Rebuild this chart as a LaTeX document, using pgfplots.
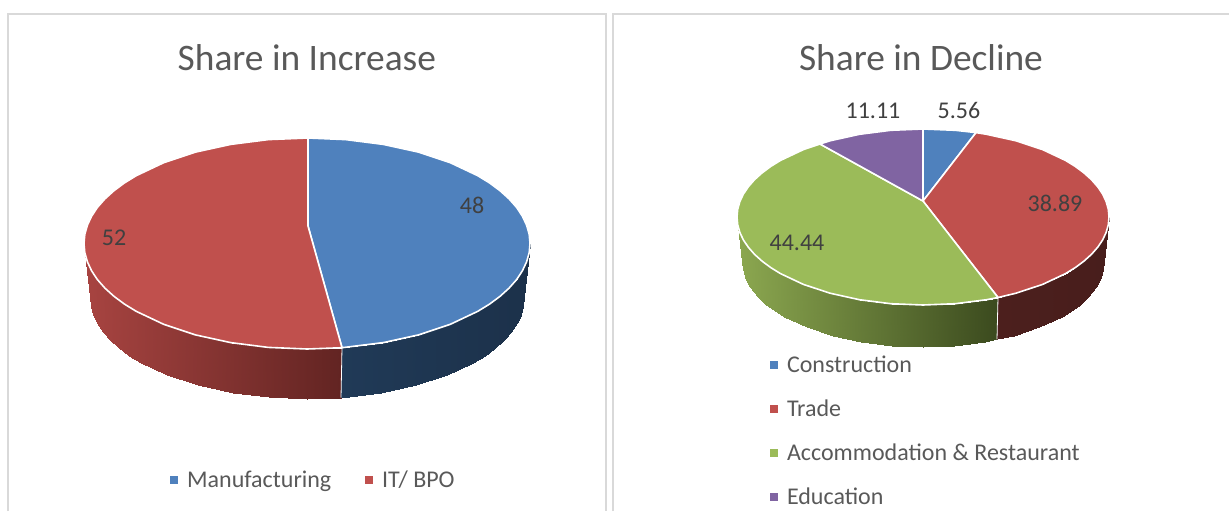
\documentclass[border=0pt]{standalone}
\usepackage{pgfplots}
\usepackage{fontspec}
\setmainfont{Carlito}
\pgfplotsset{compat=1.18}

\definecolor{cBlue}{HTML}{4F81BD}
\definecolor{cRed}{HTML}{C0504D}
\definecolor{cGreen}{HTML}{9BBB59}
\definecolor{cPurple}{HTML}{8064A2}
\definecolor{cFrame}{HTML}{D9D9D9}
\definecolor{cTitle}{HTML}{595959}
\definecolor{cValue}{HTML}{404040}

\pgfplotsset{
  colormap={sideRedL}{rgb255=(168,68,65) rgb255=(98,36,34)},
  colormap={sideBlue}{rgb255=(32,58,87) rgb255=(28,49,74)},
  colormap={sideGreen}{rgb255=(140,168,80) rgb255=(59,74,30)},
  colormap={sideRedR}{rgb255=(76,31,29) rgb255=(72,30,28)},
  pieaxis/.style={
    scale only axis,
    height=511pt,
    ymin=0, ymax=511,
    y dir=reverse,
    axis line style={draw=none},
    xtick=\empty, ytick=\empty,
    title style={font=\fontsize{37.4}{40}\selectfont, text=cTitle, anchor=center},
    legend cell align=left,
    legend image code/.code={\fill[##1, draw=none] (0pt,-4pt) rectangle (8pt,4pt); \path (14pt,0pt);},
  },
  side/.style={surf, shader=interp, forget plot, point meta=x, point meta rel=per plot, mesh/ordering=x varies},
  slice/.style={fill=#1, draw=white, line width=1.6pt, line join=round},
  values/.style={
    forget plot, only marks, mark=none,
    nodes near coords,
    point meta=explicit symbolic,
    nodes near coords align={anchor=center},
    every node near coord/.append style={font=\fontsize{24}{26}\selectfont, text=cValue, inner sep=0pt},
  },
}

\begin{document}
\begin{tikzpicture}

% left chart, coordinates are pixels of the picture
\begin{axis}[
    pieaxis,
    at={(0pt,0pt)},
    width=610pt,
    xmin=0, xmax=610,
    title={Share in Increase},
    title style={at={(0.503,0.8748)}},
    legend columns=2,
    legend style={at={(axis cs:313.5,480)}, anchor=center, draw=none, fill=none,
      font=\fontsize{24}{26}\selectfont, text=cTitle,
      /tikz/every even column/.append style={column sep=32pt}},
]
\addplot[draw=cFrame, line width=1.6pt, forget plot] coordinates {(8,511) (8,14) (606,14) (606,511)};

\addplot[side, colormap name=sideRedL, mesh/cols=15] table {
84 243.5
84.8 252.7
87.4 261.8
91.6 270.8
97.4 279.6
104.9 288.1
113.9 296.25
124.3 304
136.2 311.3
163.7 324.3
195.5 334.9
230.7 342.6
268.3 347.4
307 349
342 347.7
90 297
90.8 305.9
93.3 314.7
97.4 323.4
103.1 331.9
110.3 340.1
119.1 348
129.2 355.5
140.8 362.6
167.5 375.1
198.5 385.3
232.8 392.9
269.3 397.4
307 399
341 397.7
};
\addplot[side, colormap name=sideBlue, mesh/cols=13] table {
342 347.7
383.3 342.6
418.5 334.9
450.3 324.3
477.8 311.3
489.7 304
500.1 296.25
509.1 288.1
516.6 279.6
522.4 270.8
526.6 261.8
529.2 252.7
530 243.5
341 397.7
381.2 392.9
415.5 385.3
446.5 375.1
473.2 362.6
484.8 355.5
494.9 348
503.7 340.1
510.9 331.9
516.6 323.4
520.7 314.7
523.2 305.9
524 297
};
\addplot[draw=white, line width=0.8pt, forget plot] coordinates {(342,347.7) (341,397.7)};

% Manufacturing
\addplot[slice=cBlue] coordinates {
  (308,226) (308,138) (345.7,139.6) (383.3,144.4) (418.5,152.1) (450.3,162.7)
  (477.8,175.7) (489.7,183) (500.1,190.75) (509.1,198.9) (516.6,207.4)
  (522.4,216.2) (526.6,225.2) (529.2,234.3) (530,243.5)
  (529.2,252.7) (526.6,261.8) (522.4,270.8) (516.6,279.6) (509.1,288.1)
  (500.1,296.25) (489.7,304) (477.8,311.3) (450.3,324.3)
  (418.5,334.9) (383.3,342.6) (342,347.7) (308,226)
};
\addlegendentry{Manufacturing}
% IT/ BPO
\addplot[slice=cRed] coordinates {
  (308,226) (342,347.7) (307,349) (268.3,347.4) (230.7,342.6) (195.5,334.9)
  (163.7,324.3) (136.2,311.3) (124.3,304) (113.9,296.25) (104.9,288.1)
  (97.4,279.6) (91.6,270.8) (87.4,261.8) (84.8,252.7)
  (84,243.5) (84.8,234.3) (87.4,225.2) (91.6,216.2) (97.4,207.4) (104.9,198.9)
  (113.9,190.75) (124.3,183) (136.2,175.7)
  (163.7,162.7) (195.5,152.1) (230.7,144.4) (268.3,139.6) (308,138) (308,226)
};
\addlegendentry{IT/ BPO}

\addplot[values] table[meta=v] {
x y v
472 205 48
114 238 52
};
\end{axis}

% right chart
\begin{axis}[
    pieaxis,
    at={(610pt,0pt)},
    width=619pt,
    xmin=610, xmax=1229,
    title={Share in Decline},
    title style={at={(0.5024,0.8748)}},
    legend image code/.code={\fill[#1, draw=none] (0pt,-1pt) rectangle (8pt,7pt); \path (14pt,0pt);},
    legend style={at={(axis cs:767,364)}, anchor=north west, yshift=12pt, draw=none, fill=none,
      font=\fontsize{24}{26}\selectfont, text=cTitle, row sep=17pt,
      nodes={text height=16pt, text depth=7pt}},
]
\addplot[draw=cFrame, line width=1.6pt, forget plot] coordinates {(613,511) (613,14) (1229,14)};

\addplot[side, colormap name=sideGreen, mesh/cols=17] table {
737 217
737.7 224.7
739.8 232.3
743.3 239.8
748.2 247.1
754.4 254.2
761.9 261
770.6 267.5
780.5 273.6
803.4 284.4
830 293.2
859.4 299.7
890.7 303.7
923 305
955.3 303.7
986.6 299.7
998 297.5
742 262
742.7 269.4
744.8 276.8
748.2 284
752.9 291.1
759 297.9
766.3 304.5
774.7 310.8
784.4 316.6
806.7 327.1
832.5 335.6
861.1 341.9
891.6 345.7
923 347
954.4 345.7
984.9 341.9
997 339.4
};
\addplot[side, colormap name=sideRedR, mesh/cols=12] table {
998 297.5
1016 293.2
1042.6 284.4
1065.5 273.6
1075.4 267.5
1084.1 261
1091.6 254.2
1097.8 247.1
1102.7 239.8
1106.2 232.3
1108.3 224.7
1109 217
997 339.4
1013.5 335.6
1039.3 327.1
1061.6 316.6
1071.3 310.8
1079.7 304.5
1087 297.9
1093.1 291.1
1097.8 284
1101.2 276.8
1103.3 269.4
1104 262
};
\addplot[draw=white, line width=0.8pt, forget plot] coordinates {(998,297.5) (997,339.4)};

% Construction
\addplot[slice=cBlue] coordinates {
  (923,201) (923,129) (955.3,130.3) (976,132.6) (923,201)
};
\addlegendentry{Construction}
% Trade
\addplot[slice=cRed] coordinates {
  (923,201) (976,132.6) (986.6,134.3) (1016,140.8) (1042.6,149.6) (1065.5,160.4)
  (1075.4,166.5) (1084.1,173) (1091.6,179.8) (1097.8,186.9) (1102.7,194.2)
  (1106.2,201.7) (1108.3,209.3) (1109,217) (1108.3,224.7) (1106.2,232.3)
  (1102.7,239.8) (1097.8,247.1) (1091.6,254.2) (1084.1,261) (1075.4,267.5)
  (1065.5,273.6) (1042.6,284.4) (1016,293.2)
  (998,297.5) (923,201)
};
\addlegendentry{Trade}
% Accommodation & Restaurant
\addplot[slice=cGreen] coordinates {
  (923,201) (998,297.5) (986.6,299.7) (955.3,303.7) (923,305) (890.7,303.7)
  (859.4,299.7) (830,293.2) (803.4,284.4) (780.5,273.6) (770.6,267.5) (761.9,261)
  (754.4,254.2) (748.2,247.1) (743.3,239.8) (739.8,232.3) (737.7,224.7)
  (737,217) (737.7,209.3) (739.8,201.7) (743.3,194.2) (748.2,186.9) (754.4,179.8)
  (761.9,173) (770.6,166.5) (780.5,160.4) (803.4,149.6) (820,144) (923,201)
};
\addlegendentry{Accommodation \& Restaurant}
% Education
\addplot[slice=cPurple] coordinates {
  (923,201) (820,144) (830,140.8) (859.4,134.3) (890.7,130.3) (923,129) (923,201)
};
\addlegendentry{Education}

\addplot[values] table[meta=v] {
x y v
959 110 5.56
873 111 11.11
1055 203 38.89
797 243 44.44
};
\end{axis}
\end{tikzpicture}
\end{document}
